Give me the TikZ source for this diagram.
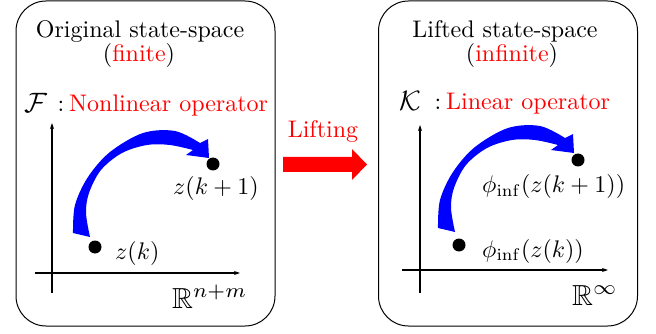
\documentclass[tikz,border=0pt]{standalone}
\usepackage{amssymb}
\usepackage{graphicx}
\usetikzlibrary{arrows.meta}
\newcommand{\myS}[1]{\scalebox{2.4}{#1}}
\newcommand{\myB}[1]{\scalebox{2.9}{#1}}
\newcommand{\myC}[1]{\scalebox{2.8}{#1}}
\begin{document}
\begin{tikzpicture}[x=1pt,y=-1pt,
  panel/.style={draw=black, line width=1pt, rounded corners=30pt, minimum width=259pt, minimum height=325pt, inner sep=0pt},
  txt/.style={inner sep=0pt, font=\fontsize{10}{12}\selectfont},
  axis/.style={line width=1.2pt, -{Stealth[length=6pt,width=4pt]}},
  dot/.style={circle, fill=black, minimum size=13pt, inner sep=0pt},
  bluearrow/.style={fill={rgb,255:red,0;green,0;blue,255}}]
\useasboundingbox (0,0) rectangle (656,334);
% panels
\node[panel] (L) at (145.5,163.5) {};
\node[panel] (R) at (508,163.5) {};
% titles
\node[txt, anchor=base] (lt1) at (140,37.5) {\myS{Original state-space}};
\node[txt, anchor=base] (lt2) at (139,62) {\myS{(\textcolor{red}{finite})}};
\node[txt, anchor=base] (rt1) at (505,38) {\myS{Lifted state-space}};
\node[txt, anchor=base] (rt2) at (512,62) {\myS{(\textcolor{red}{infinite})}};
% operators
\node[txt, anchor=base west] (lF) at (24,113) {\myC{$\mathcal{F}$}};
\node[txt, anchor=base] (lc) at (61,112) {\myS{:}};
\node[txt, anchor=base west, text=red] (lop) at (69,112) {\myS{Nonlinear operator}};
\node[txt, anchor=base west] (rK) at (399,111) {\myC{$\mathcal{K}$}};
\node[txt, anchor=base] (rc) at (438,110) {\myS{:}};
\node[txt, anchor=base west, text=red] (rop) at (446,110) {\myS{Linear operator}};
% axes
\coordinate (lyb) at (52,293); \coordinate (lyt) at (52,123);
\coordinate (lxl) at (35,273); \coordinate (lxr) at (240,273);
\draw[axis] (lyb) -- (lyt);
\draw[axis] (lxl) -- (lxr);
\coordinate (ryb) at (420,293); \coordinate (ryt) at (420,125);
\coordinate (rxl) at (402,270); \coordinate (rxr) at (608,270);
\draw[axis] (ryb) -- (ryt);
\draw[axis] (rxl) -- (rxr);
% space labels
\node[txt, anchor=base west] (lsp) at (172,308) {\myB{$\mathbb{R}^{n+m}$}};
\node[txt, anchor=base west] (rsp) at (572,305) {\myB{$\mathbb{R}^{\infty}$}};
% blue curved arrows
\foreach \dx/\dy/\nm in {0/0/l, 365/-5/r}{
  \begin{scope}[shift={(\dx,\dy)}]
  \fill[bluearrow] plot[smooth, tension=0.55] coordinates {(73,233) (75,205) (88,177) (110,152) (143,133) (175,131) (200,143)}
    -- (208,139) -- (209,158) -- (186,155) -- (193,150)
    -- plot[smooth, tension=0.55] coordinates {(193,150) (170,145) (147,145) (122,153) (101,170) (89,193) (86,213) (90,237)}
    -- cycle;
  \end{scope}
}
% dots
\node[dot] (lz0) at (95,247) {};
\node[dot] (lz1) at (213,164) {};
\node[dot] (rz0) at (459,245) {};
\node[dot] (rz1) at (578,160) {};
% point labels
\node[txt, anchor=base west] (lz0t) at (115,259) {\myS{$z(k)$}};
\node[txt, anchor=base west] (lz1t) at (173,194) {\myS{$z(k+1)$}};
\node[txt, anchor=base west] (rz0t) at (482,257) {\myS{$\phi_{\mathrm{inf}}(z(k))$}};
\node[txt, anchor=base west] (rz1t) at (482,193) {\myS{$\phi_{\mathrm{inf}}(z(k+1))$}};
% lifting
\node[txt, anchor=base, text=red] (lift) at (323,138) {\myS{Lifting}};
\fill[red] (283,157) -- (352,157) -- (352,149) -- (367,164.5) -- (352,180) -- (352,172) -- (283,172) -- cycle;
\end{tikzpicture}
\end{document}
